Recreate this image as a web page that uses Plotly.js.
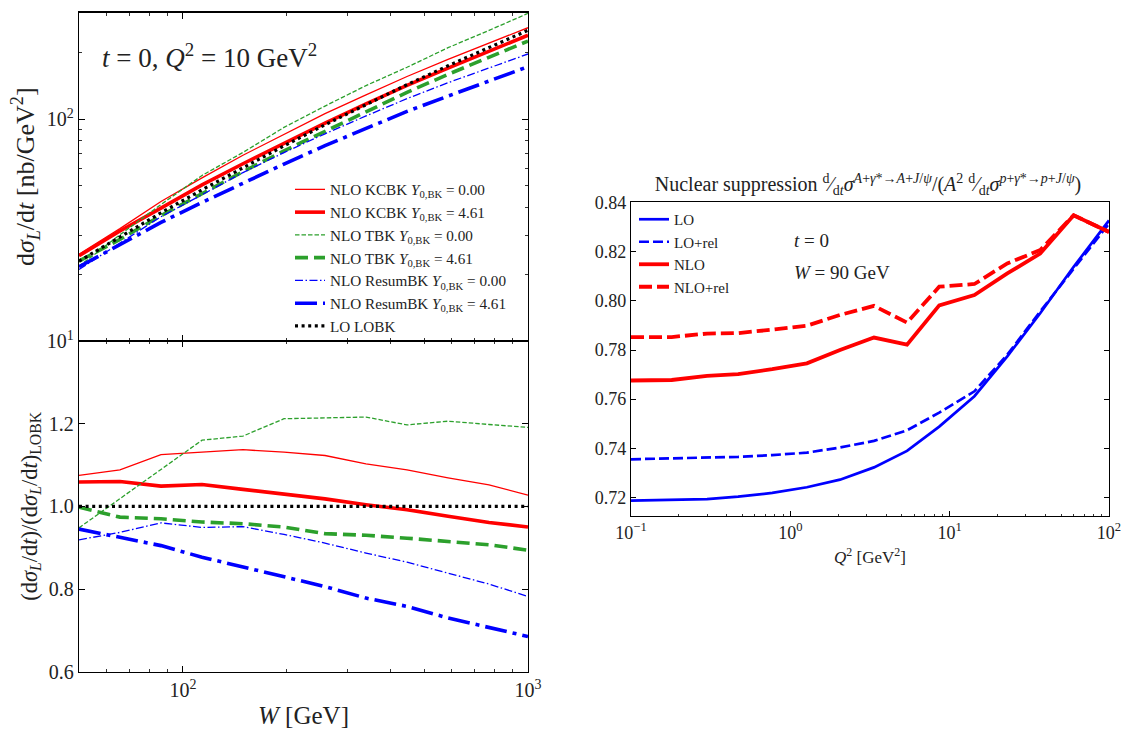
<!DOCTYPE html>
<html>
<head>
<meta charset="utf-8">
<script src="https://cdn.plot.ly/plotly-3.0.1.min.js"></script>
<style>html,body{margin:0;padding:0;background:#fff;}</style>
</head>
<body>
<div id="chart" style="width:1126px;height:729px;"></div>
<script>
// ---- Left panels: W dependence at t=0, Q^2 = 10 GeV^2 ----
const W = [50, 65.7, 86.4, 113.6, 149.3, 196.3, 258.1, 339.3, 446.1, 586.5, 771.0, 1000];

// d sigma_L / dt [nb/GeV^2]
const xsKCBK0   = [24.6, 32.1, 42.5, 54.3, 68.7, 85.6, 105.8, 128.4, 155.5, 185.8, 220.3, 258.0];
const xsKCBK461 = [24.2, 31.3, 39.7, 50.5, 62.9, 78.0, 95.9, 116.9, 141.8, 169.6, 201.2, 238.6];
const xsTBK0    = [21.7, 30.1, 41.2, 55.7, 70.7, 91.7, 114.4, 141.5, 171.1, 209.6, 250.9, 299.2];
const xsTBK461  = [22.9, 28.7, 36.7, 46.2, 57.9, 71.9, 88.0, 108.3, 131.9, 159.0, 189.9, 224.6];
const xsRes0    = [21.0, 27.6, 36.3, 45.6, 57.4, 70.6, 85.8, 103.3, 123.6, 145.8, 170.0, 196.4];
const xsRes461  = [21.6, 27.3, 34.2, 42.1, 51.5, 62.7, 75.9, 90.6, 108.3, 126.9, 147.8, 172.1];
const xsLOBK    = [22.9, 29.5, 37.8, 48.0, 60.4, 75.7, 94.2, 116.4, 142.9, 173.8, 209.4, 251.2];

// ratio to LO LOBK
const rKCBK0   = [1.075, 1.088, 1.125, 1.131, 1.137, 1.131, 1.123, 1.103, 1.088, 1.069, 1.052, 1.027];
const rKCBK461 = [1.059, 1.060, 1.049, 1.053, 1.041, 1.030, 1.018, 1.004, 0.992, 0.976, 0.961, 0.950];
const rTBK0    = [0.948, 1.019, 1.091, 1.160, 1.170, 1.212, 1.214, 1.216, 1.197, 1.206, 1.198, 1.191];
const rTBK461  = [0.998, 0.974, 0.970, 0.962, 0.958, 0.950, 0.934, 0.930, 0.923, 0.915, 0.907, 0.894];
const rRes0    = [0.919, 0.937, 0.960, 0.949, 0.951, 0.932, 0.911, 0.887, 0.865, 0.839, 0.812, 0.782];
const rRes461  = [0.945, 0.924, 0.905, 0.877, 0.853, 0.828, 0.806, 0.778, 0.758, 0.730, 0.706, 0.685];
const rLOBK    = [1, 1, 1, 1, 1, 1, 1, 1, 1, 1, 1, 1];

const seriesNames = [
  'NLO KCBK <i>Y</i><sub>0,BK</sub> = 0.00',
  'NLO KCBK <i>Y</i><sub>0,BK</sub> = 4.61',
  'NLO TBK <i>Y</i><sub>0,BK</sub> = 0.00',
  'NLO TBK <i>Y</i><sub>0,BK</sub> = 4.61',
  'NLO ResumBK <i>Y</i><sub>0,BK</sub> = 0.00',
  'NLO ResumBK <i>Y</i><sub>0,BK</sub> = 4.61',
  'LO LOBK'
];

// ---- Right panel: nuclear suppression vs Q^2 ----
const Q2 = [0.1, 0.18, 0.3, 0.47, 0.77, 1.27, 2.05, 3.35, 5.4, 8.6, 14.3, 23, 37, 60, 100];
const supLO     = [0.7187, 0.7189, 0.7193, 0.7203, 0.7218, 0.7241, 0.7272, 0.7322, 0.7389, 0.7488, 0.7612, 0.7774, 0.7950, 0.8139, 0.8328];
const supLOrel  = [0.7355, 0.7358, 0.7361, 0.7365, 0.7372, 0.7382, 0.7403, 0.7430, 0.7473, 0.7545, 0.7632, 0.7781, 0.7957, 0.8132, 0.8315];
const supNLO    = [0.7676, 0.7678, 0.7695, 0.7702, 0.7722, 0.7746, 0.7800, 0.7851, 0.7822, 0.7982, 0.8024, 0.8112, 0.8193, 0.8349, 0.8281];
const supNLOrel = [0.7853, 0.7853, 0.7867, 0.7869, 0.7883, 0.7899, 0.7943, 0.7980, 0.7912, 0.8058, 0.8069, 0.8153, 0.8207, 0.8349, 0.8281];
const supNames = ['LO', 'LO+rel', 'NLO', 'NLO+rel'];

const RED = '#ff0000', GREEN = '#2ca02c', BLUE = '#0000ff', BLACK = '#000000';
const styles = [
  {color: RED,   width: 1.3, dash: 'solid'},
  {color: RED,   width: 3.6, dash: 'solid'},
  {color: GREEN, width: 1.3, dash: '4.5px,2px'},
  {color: GREEN, width: 3.6, dash: '13px,6px'},
  {color: BLUE,  width: 1.3, dash: '8px,2.5px,1.5px,2.5px'},
  {color: BLUE,  width: 3.6, dash: '22px,6px,4px,6px'},
  {color: BLACK, width: 3.2, dash: '3px,3.6px'}
];
const topData = [xsKCBK0, xsKCBK461, xsTBK0, xsTBK461, xsRes0, xsRes461, xsLOBK];
const botData = [rKCBK0, rKCBK461, rTBK0, rTBK461, rRes0, rRes461, rLOBK];

const traces = [];
topData.forEach((ys, i) => {
  traces.push({x: W, y: ys, type: 'scatter', mode: 'lines', name: seriesNames[i],
    line: styles[i], xaxis: 'x', yaxis: 'y', legend: 'legend', showlegend: true});
});
botData.forEach((ys, i) => {
  traces.push({x: W, y: ys, type: 'scatter', mode: 'lines', name: seriesNames[i],
    line: styles[i], xaxis: 'x2', yaxis: 'y2', showlegend: false});
});
const supData = [supLO, supLOrel, supNLO, supNLOrel];
const supStyles = [
  {color: BLUE, width: 2.7, dash: 'solid'},
  {color: BLUE, width: 2.7, dash: '10px,4px'},
  {color: RED,  width: 3.8, dash: 'solid'},
  {color: RED,  width: 3.8, dash: '13px,5px'}
];
supData.forEach((ys, i) => {
  traces.push({x: Q2, y: ys, type: 'scatter', mode: 'lines', name: supNames[i],
    line: supStyles[i], xaxis: 'x3', yaxis: 'y3', legend: 'legend2', showlegend: true});
});

const FONT = 'Liberation Serif, Times New Roman, serif';
const W0 = 1126, H0 = 729;
const px = v => v / W0;
const py = v => 1 - v / H0;

const minorLogW = {ticks: 'inside', ticklen: 3, tickwidth: 0.8, tickcolor: '#000',
  tickvals: [60, 70, 80, 90, 200, 300, 400, 500, 600, 700, 800, 900]};
const axBase = {showline: true, linecolor: '#000', linewidth: 1.2, mirror: 'allticks',
  ticks: 'inside', ticklen: 6, tickwidth: 1, tickcolor: '#000', showgrid: false, zeroline: false,
  tickfont: {family: FONT, size: 20, color: '#222'}};

const layout = {
  width: W0, height: H0,
  margin: {l: 0, r: 0, t: 0, b: 0},
  paper_bgcolor: '#fff', plot_bgcolor: '#fff',
  font: {family: FONT, color: '#222'},
  showlegend: true,
  title: {
    text: 'Nuclear suppression <sup>d</sup>⁄<sub>d<i>t</i></sub><i>σ</i><sup><i>A</i>+<i>γ</i>*→<i>A</i>+<i>J</i>/<i>ψ</i></sup>/(<i>A</i><sup>2</sup> <sup>d</sup>⁄<sub>d<i>t</i></sub><i>σ</i><sup><i>p</i>+<i>γ</i>*→<i>p</i>+<i>J</i>/<i>ψ</i></sup>)',
    font: {family: FONT, size: 20, color: '#222'},
    x: px(868), y: py(184), xref: 'paper', yref: 'paper', xanchor: 'center', yanchor: 'middle'
  },
  xaxis: Object.assign({}, axBase, {
    type: 'log', range: [Math.log10(50), 3], domain: [px(79), px(528)], anchor: 'y',
    showticklabels: false, tickvals: [100, 1000], minor: minorLogW
  }),
  yaxis: Object.assign({}, axBase, {
    type: 'log', range: [1, Math.log10(302)], domain: [py(341), py(12.5)], anchor: 'x',
    tickvals: [10, 100], ticktext: ['10<sup>1</sup>', '10<sup>2</sup>'],
    minor: {ticks: 'inside', ticklen: 3, tickwidth: 0.8, tickcolor: '#000',
      tickvals: [20, 30, 40, 50, 60, 70, 80, 90, 200, 300]},
    title: {text: 'd<i>σ</i><sub><i>L</i></sub>/d<i>t</i> [nb/GeV<sup>2</sup>]',
      font: {family: FONT, size: 26, color: '#222'}, standoff: 4}
  }),
  xaxis2: Object.assign({}, axBase, {
    type: 'log', range: [Math.log10(50), 3], domain: [px(79), px(528)], anchor: 'y2',
    tickvals: [100, 1000], ticktext: ['10<sup>2</sup>', '10<sup>3</sup>'], minor: minorLogW,
    title: {text: '<i>W</i> [GeV]', font: {family: FONT, size: 25, color: '#222'}, standoff: 6}
  }),
  yaxis2: Object.assign({}, axBase, {
    range: [0.6, 1.4], domain: [py(671.7), py(341)], anchor: 'x2',
    tickvals: [0.6, 0.8, 1.0, 1.2], ticktext: ['0.6', '0.8', '1.0', '1.2'],
    title: {text: '(d<i>σ</i><sub><i>L</i></sub>/d<i>t</i>)/(d<i>σ</i><sub><i>L</i></sub>/d<i>t</i>)<sub>LOBK</sub>',
      font: {family: FONT, size: 22.5, color: '#222'}, standoff: 5}
  }),
  xaxis3: Object.assign({}, axBase, {
    type: 'log', range: [-1, 2], domain: [px(631), px(1109)], anchor: 'y3',
    tickvals: [0.1, 1, 10, 100], ticktext: ['10<sup>−1</sup>', '10<sup>0</sup>', '10<sup>1</sup>', '10<sup>2</sup>'],
    mirror: true, ticklen: 5,
    tickfont: {family: FONT, size: 18, color: '#222'},
    minor: {ticks: 'inside', ticklen: 2.5, tickwidth: 0.8, tickcolor: '#000',
      tickvals: [0.2,0.3,0.4,0.5,0.6,0.7,0.8,0.9,2,3,4,5,6,7,8,9,20,30,40,50,60,70,80,90]},
    title: {text: '<i>Q</i><sup>2</sup> [GeV<sup>2</sup>]', font: {family: FONT, size: 17, color: '#222'}, standoff: 9}
  }),
  yaxis3: Object.assign({}, axBase, {
    range: [0.7124, 0.8403], domain: [py(516), py(202)], anchor: 'x3',
    tickvals: [0.72, 0.74, 0.76, 0.78, 0.80, 0.82, 0.84],
    ticktext: ['0.72', '0.74', '0.76', '0.78', '0.80', '0.82', '0.84'],
    ticklen: 5,
    tickfont: {family: FONT, size: 18, color: '#222'}
  }),
  legend: {
    x: px(290), y: py(173), xanchor: 'left', yanchor: 'top',
    bgcolor: 'rgba(255,255,255,0)', borderwidth: 0,
    font: {family: FONT, size: 15.2, color: '#222'}, tracegroupgap: 0
  },
  legend2: {
    x: px(634), y: py(203), xanchor: 'left', yanchor: 'top',
    bgcolor: 'rgba(255,255,255,0)', borderwidth: 0,
    font: {family: FONT, size: 15, color: '#222'}, tracegroupgap: 0
  },
  annotations: [
    {text: '<i>t</i> = 0, <i>Q</i><sup>2</sup> = 10 GeV<sup>2</sup>', xref: 'paper', yref: 'paper',
     x: px(100), y: py(56), xanchor: 'left', yanchor: 'middle', showarrow: false,
     font: {family: FONT, size: 27, color: '#222'}},
    {text: '<i>t</i> = 0', xref: 'paper', yref: 'paper',
     x: px(792), y: py(240), xanchor: 'left', yanchor: 'middle', showarrow: false,
     font: {family: FONT, size: 19, color: '#222'}},
    {text: '<i>W</i> = 90 GeV', xref: 'paper', yref: 'paper',
     x: px(792), y: py(272), xanchor: 'left', yanchor: 'middle', showarrow: false,
     font: {family: FONT, size: 19, color: '#222'}}
  ]
};

Plotly.newPlot('chart', traces, layout, {staticPlot: true, displayModeBar: false});
</script>
</body>
</html>
